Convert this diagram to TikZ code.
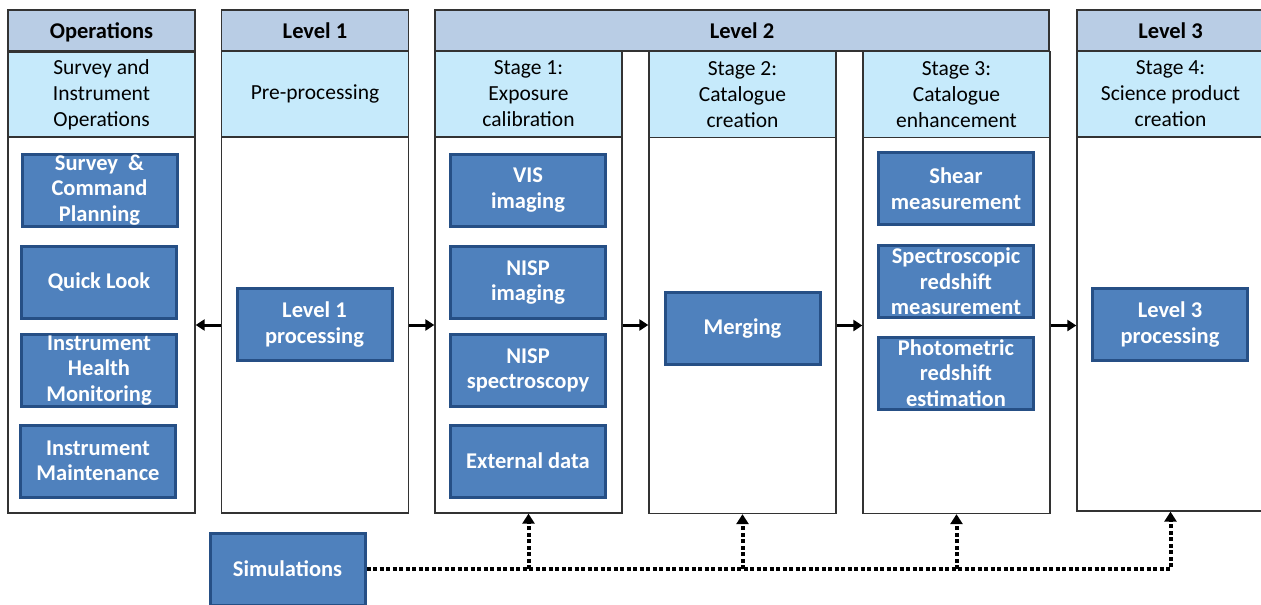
\documentclass[tikz,border=0pt]{standalone}
\usepackage{fontspec}
\setmainfont{Carlito}
\usetikzlibrary{arrows.meta}
\definecolor{headfill}{HTML}{B9CDE5}
\definecolor{bandfill}{HTML}{C6EAFB}
\definecolor{procfill}{HTML}{4F81BD}
\definecolor{procline}{HTML}{264F85}
\begin{document}
\begin{tikzpicture}[x=1pt,y=1pt,
    font=\fontsize{21.5}{26}\selectfont,
    colhead/.style={draw=black!80,line width=1.3pt,fill=headfill,minimum width=187pt,
      minimum height=41pt,inner sep=0pt,text height=18pt,text depth=2pt,
      font=\fontsize{22.5}{26}\selectfont\bfseries},
    band/.style={draw=black!80,line width=1.3pt,fill=bandfill,minimum width=187pt,
      minimum height=86pt,inner sep=0pt,align=center},
    colbody/.style={draw=black!80,line width=1.3pt,fill=white,minimum width=187pt,
      minimum height=376pt,inner sep=0pt},
    proc/.style={draw=procline,line width=3pt,fill=procfill,text=white,minimum width=155pt,
      minimum height=72pt,inner sep=0pt,align=center,font=\fontsize{22.5}{25.5}\selectfont\bfseries},
    flow/.style={line width=3pt,-{Triangle[length=9pt,width=11pt]}},
    simline/.style={line width=4pt,dash pattern=on 4pt off 2.5pt,-{Triangle[length=10pt,width=12pt]}}]
      \useasboundingbox (0,0) rectangle (1261,-605);
      \clip (0,0) rectangle (1261,-605);
      % operations
      \node[colhead] at (101.5,-30.5) (opshead) {Operations};
      \node[band] at (101.5,-95) (opsband) {Survey and\\Instrument\\Operations};
      \node[colbody] at (101.5,-325) (opsbody) {};
      \node[proc] at (99.5,-190) (plan) {Survey\ \ \&\\Command\\Planning};
      \node[proc] at (99,-282.5) (quick) {Quick Look};
      \node[proc] at (99,-370.5) (health) {Instrument\\Health\\Monitoring};
      \node[proc] at (98,-461) (maint) {Instrument\\Maintenance};
      % level 1
      \node[colhead] at (315,-30.5) (lvlhead) {Level 1};
      \node[band] at (315,-94) (lvlband) {Pre-processing};
      \node[colbody] at (315,-325) (lvlbody) {};
      \node[proc] at (314.5,-324.5) (lvlproc) {Level 1\\processing};
      % level 2
      \node[colhead,minimum width=614pt] at (742,-30.5) (ltwohead) {Level 2};
      % stage 1
      \node[band] at (528.5,-94) (sonband) {Stage 1:\\Exposure\\calibration};
      \node[colbody] at (528.5,-325) (sonbody) {};
      \node[proc] at (528,-190) (vis) {VIS\\imaging};
      \node[proc] at (528,-282.5) (nispim) {NISP\\imaging};
      \node[proc] at (528,-370.5) (nispsp) {NISP\\spectroscopy};
      \node[proc] at (528,-461) (ext) {External data};
      % stage 2
      \node[band] at (742.5,-94.5) (stwband) {Stage 2:\\Catalogue\\creation};
      \node[colbody] at (742.5,-325.5) (stwbody) {};
      \node[proc] at (742.5,-328.5) (merge) {Merging};
      % stage 3
      \node[band] at (956.5,-94.5) (sthband) {Stage 3:\\Catalogue\\enhancement};
      \node[colbody] at (956.5,-325.5) (sthbody) {};
      \node[proc] at (956,-188.5) (shear) {Shear\\measurement};
      \node[proc] at (956,-281.5) (specz) {Spectroscopic\\redshift\\measurement};
      \node[proc] at (956,-373) (photz) {Photometric\\redshift\\estimation};
      % level 3
      \node[colhead] at (1170.5,-30.5) (lthhead) {Level 3};
      \node[band] at (1170.5,-94) (lthband) {Stage 4:\\Science product\\creation};
      \node[colbody,minimum height=374pt] at (1170.5,-324) (lthbody) {};
      \node[proc] at (1170,-324.5) (lthproc) {Level 3\\processing};
      % flow between columns
      \draw[flow] (lvlbody.west) -- (lvlbody.west -| opsbody.east);
      \draw[flow] (lvlbody.east) -- (lvlbody.east -| sonbody.west);
      \draw[flow] (sonbody.east) -- (sonbody.east -| stwbody.west);
      \draw[flow] (stwbody.east) -- (stwbody.east -| sthbody.west);
      \draw[flow] (sthbody.east) -- (sthbody.east -| lthbody.west);
      % simulations
      \node[proc] at (287.5,-569) (sim) {Simulations};
      \draw[simline] (sim.east) -- (sim.east -| lthbody.south) -- (lthbody.south);
      \foreach \c in {sonbody,stwbody,sthbody}
        \draw[simline] (sim.east -| \c.south) -- (\c.south);
    \end{tikzpicture}
\end{document}
